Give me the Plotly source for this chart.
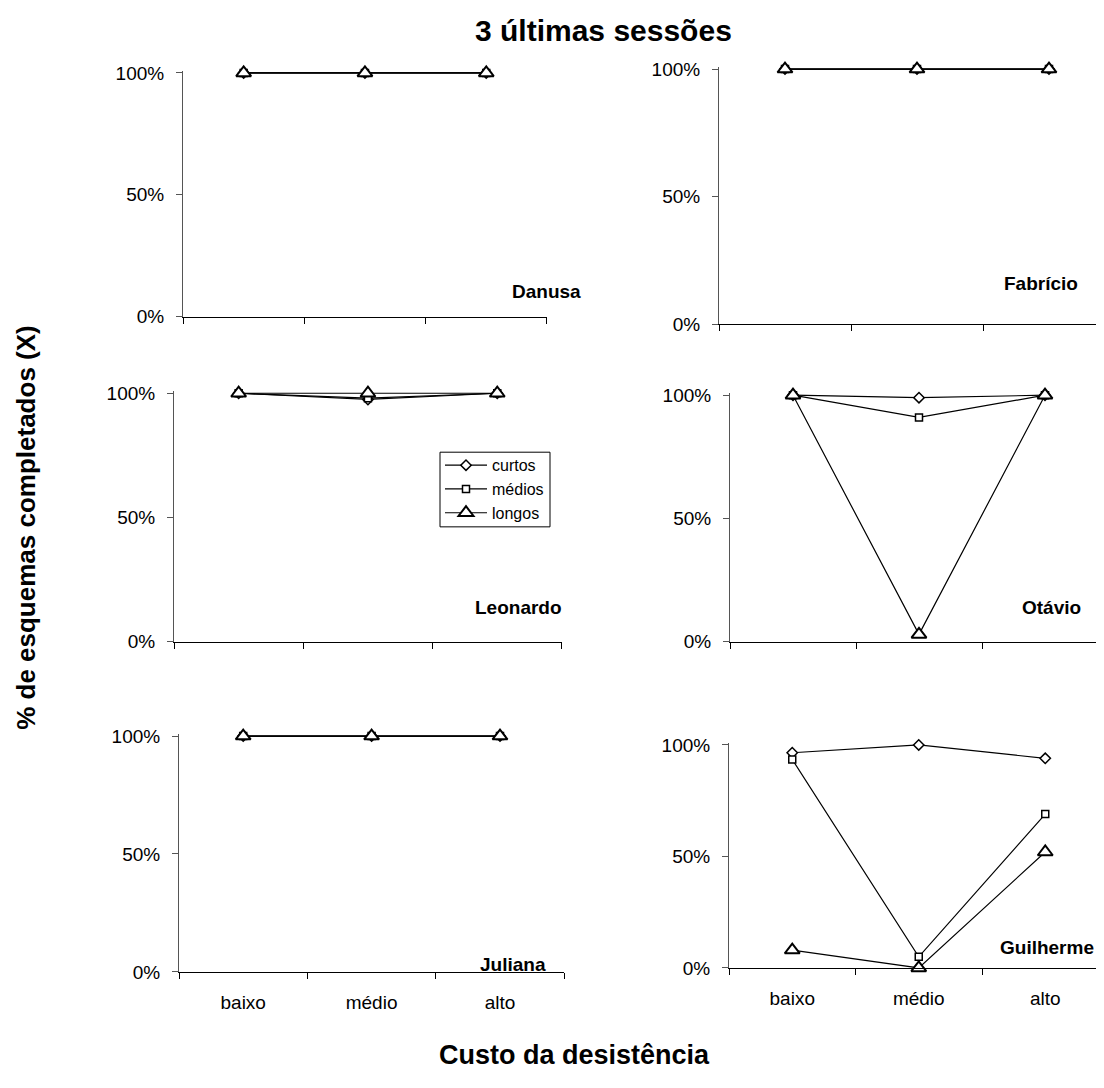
import plotly.graph_objects as go

# ---------------- data ----------------
categorias = ["baixo", "médio", "alto"]
series_nomes = ["curtos", "médios", "longos"]
participantes = ["Danusa", "Fabrício", "Leonardo", "Otávio", "Juliana", "Guilherme"]

danusa_curtos = [1.00, 1.00, 1.00]
danusa_medios = [1.00, 1.00, 1.00]
danusa_longos = [1.00, 1.00, 1.00]

fabricio_curtos = [1.00, 1.00, 1.00]
fabricio_medios = [1.00, 1.00, 1.00]
fabricio_longos = [1.00, 1.00, 1.00]

leonardo_curtos = [1.00, 0.975, 1.00]
leonardo_medios = [1.00, 0.98, 1.00]
leonardo_longos = [1.00, 1.00, 1.00]

otavio_curtos = [1.00, 0.99, 1.00]
otavio_medios = [1.00, 0.91, 1.00]
otavio_longos = [1.00, 0.03, 1.00]

juliana_curtos = [1.00, 1.00, 1.00]
juliana_medios = [1.00, 1.00, 1.00]
juliana_longos = [1.00, 1.00, 1.00]

guilherme_curtos = [0.965, 1.00, 0.94]
guilherme_medios = [0.935, 0.05, 0.69]
guilherme_longos = [0.08, 0.00, 0.52]

dados = {
    "Danusa": [danusa_curtos, danusa_medios, danusa_longos],
    "Fabrício": [fabricio_curtos, fabricio_medios, fabricio_longos],
    "Leonardo": [leonardo_curtos, leonardo_medios, leonardo_longos],
    "Otávio": [otavio_curtos, otavio_medios, otavio_longos],
    "Juliana": [juliana_curtos, juliana_medios, juliana_longos],
    "Guilherme": [guilherme_curtos, guilherme_medios, guilherme_longos],
}

# ---------------- layout geometry (page pixels) ----------------
OFF = 8  # default page body margin
W, H = 1104 - OFF, 1088 - OFF
# left, category width, y(100%), y(0%)   (page coordinates)
caixas = {
    "Danusa": (183, 121.3, 66, 314),
    "Fabrício": (719, 132.0, 62, 322),
    "Leonardo": (174, 129.3, 392, 645),
    "Otávio": (730, 126.0, 394, 645),
    "Juliana": (179, 128.4, 741, 981),
    "Guilherme": (729, 126.5, 750, 977),
}
rotulos = {
    "Danusa": (546, 288),
    "Fabrício": (1041, 280),
    "Leonardo": (518, 610),
    "Otávio": (1051, 610),
    "Juliana": (513, 973),
    "Guilherme": (1047, 956),
}


def px(x):
    return (x - OFF) / W


def py(y):
    return 1 - (y - OFF) / H


FONT = "Liberation Sans, Arial, sans-serif"
simbolos = {"curtos": ("diamond", 8, 1.5), "médios": ("square", 7, 1.5), "longos": ("triangle-up", 13, 2)}

fig = go.Figure()
layout = dict(
    width=W, height=H, margin=dict(l=0, r=0, t=0, b=0),
    paper_bgcolor="white", plot_bgcolor="white",
    font=dict(family=FONT, size=16, color="black"),
    showlegend=True,
)

annotations = []
for i, nome in enumerate(participantes):
    k = i + 1
    xa = "x" if k == 1 else f"x{k}"
    ya = "y" if k == 1 else f"y{k}"
    left, cw, ytop, ybot = caixas[nome]
    right = min(left + 3 * cw, 1104)
    pad = 2.0
    pxper = (ybot - ytop)
    x_end = -0.5 + (right - left) / cw
    bottom_row = nome in ("Juliana", "Guilherme")
    for s_i, s in enumerate(series_nomes):
        sym, sz, lw = simbolos[s]
        fig.add_trace(go.Scatter(
            x=categorias, y=dados[nome][s_i], mode="lines+markers", name=s,
            xaxis=xa, yaxis=ya, cliponaxis=False,
            line=dict(color="black", width=1.2),
            marker=dict(symbol=sym, size=sz, color="white", line=dict(color="black", width=lw)),
            showlegend=(nome == "Leonardo"), legendrank=s_i,
        ))
    layout["xaxis" if k == 1 else f"xaxis{k}"] = dict(
        domain=[px(left), min(px(right), 1.0)], type="category",
        categoryorder="array", categoryarray=categorias,
        range=[-0.5, x_end], anchor=ya,
        showline=True, linecolor="black", linewidth=1,
        ticks="outside", tickson="boundaries", ticklen=6, tickcolor="black",
        showticklabels=bottom_row, tickfont=dict(size=19, family=FONT),
        ticklabelstandoff=13,
        showgrid=False, zeroline=False, fixedrange=True,
    )
    layout["yaxis" if k == 1 else f"yaxis{k}"] = dict(
        domain=[py(ybot), py(ytop - pad)],
        range=[0, 1 + pad / pxper], anchor=xa,
        tickvals=[0, 0.5, 1], ticktext=["0%", "50%", "100%"],
        showline=True, linecolor="#555555", linewidth=1,
        ticks="outside", ticklen=6, tickcolor="#555555",
        tickfont=dict(size=19, family=FONT), ticklabelstandoff=8,
        showgrid=False, zeroline=False, fixedrange=True,
    )
    cx, cy = rotulos[nome]
    annotations.append(dict(
        text=f"<b>{nome}</b>", x=px(cx), y=py(cy), xref="paper", yref="paper",
        xanchor="center", yanchor="middle", showarrow=False,
        font=dict(size=19, family=FONT, color="black"),
    ))

annotations.append(dict(
    text="<b>3 últimas sessões</b>", x=px(603), y=py(23), xref="paper", yref="paper",
    xanchor="center", yanchor="middle", showarrow=False, font=dict(size=30, family=FONT),
))
annotations.append(dict(
    text="<b>Custo da desistência</b>", x=px(574), y=py(1066), xref="paper", yref="paper",
    xanchor="center", yanchor="middle", showarrow=False, font=dict(size=27, family=FONT),
))
annotations.append(dict(
    text="<b>% de esquemas completados (X)</b>", x=px(26), y=py(529), xref="paper", yref="paper",
    xanchor="center", yanchor="middle", showarrow=False, textangle=-90, font=dict(size=26, family=FONT),
))
layout["annotations"] = annotations
layout["shapes"] = [dict(
    type="rect", xref="paper", yref="paper",
    x0=px(440), x1=px(550), y0=py(528), y1=py(452),
    line=dict(color="black", width=1), fillcolor="white", layer="below",
)]
layout["legend"] = dict(
    x=px(440), y=py(448), xanchor="left", yanchor="top",
    borderwidth=0, bgcolor="rgba(0,0,0,0)",
    font=dict(size=16, family=FONT), tracegroupgap=0, itemwidth=42,
)
fig.update_layout(**layout)
fig.write_html("out.html")
